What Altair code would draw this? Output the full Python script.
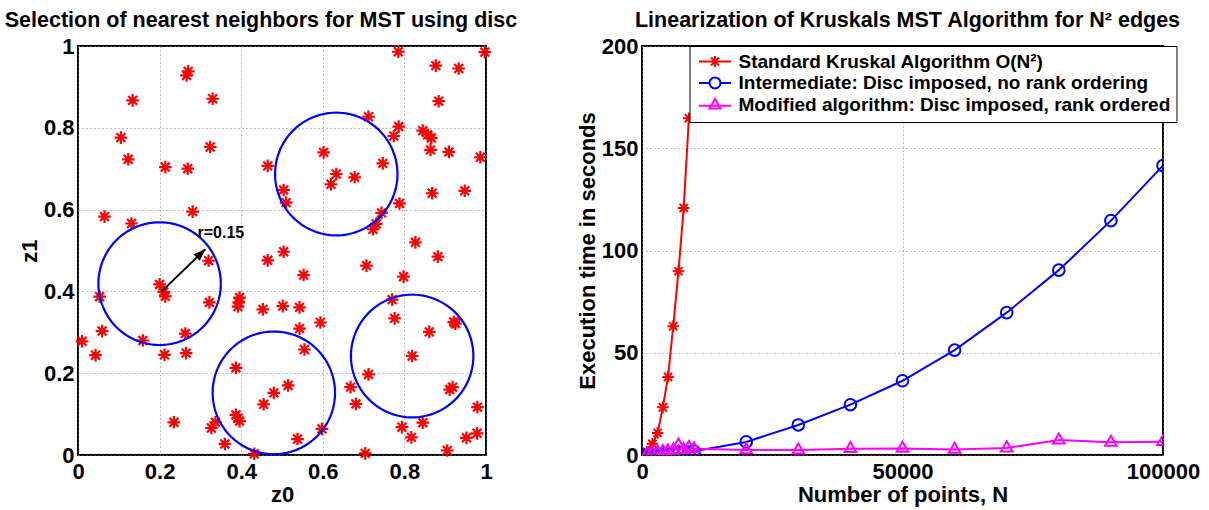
import altair as alt
import numpy as np
import pandas as pd

FONT = "Liberation Sans"

# ---------------- left panel data ----------------
pts_x = [0.270, 0.266, 0.134, 0.330, 0.105, 0.123, 0.324, 0.214, 0.269, 0.465,
         0.281, 0.065, 0.131, 0.504, 0.510, 0.504,
         0.785, 0.997, 0.877, 0.933, 0.884, 0.712, 0.786, 0.774, 0.845, 0.857,
         0.866, 0.864, 0.909, 0.986, 0.602, 0.633, 0.620, 0.678, 0.747, 0.868,
         0.948, 0.788, 0.744, 0.731, 0.723, 0.827,
         0.320, 0.200, 0.210, 0.214, 0.053, 0.322, 0.059, 0.010, 0.043, 0.159,
         0.263, 0.212, 0.265, 0.396, 0.394, 0.392, 0.453, 0.502, 0.465, 0.387,
         0.235, 0.327, 0.337, 0.387, 0.392, 0.396, 0.360, 0.432, 0.455, 0.480,
         0.515,
         0.882, 0.707, 0.798, 0.553, 0.543, 0.594, 0.543, 0.555, 0.770, 0.776,
         0.861, 0.921, 0.925, 0.819, 0.712, 0.668, 0.681, 0.911, 0.918, 0.979,
         0.845, 0.794, 0.817, 0.952, 0.978, 0.905, 0.704, 0.598, 0.538]
pts_y = [0.938, 0.928, 0.867, 0.871, 0.776, 0.723, 0.753, 0.704, 0.700, 0.707,
         0.595, 0.583, 0.566, 0.648, 0.617, 0.497,
         0.986, 0.985, 0.952, 0.945, 0.865, 0.827, 0.803, 0.780, 0.793, 0.783,
         0.775, 0.746, 0.741, 0.728, 0.740, 0.687, 0.662, 0.679, 0.713, 0.640,
         0.646, 0.615, 0.592, 0.565, 0.552, 0.520,
         0.475, 0.417, 0.399, 0.388, 0.387, 0.373, 0.303, 0.278, 0.244, 0.280,
         0.297, 0.245, 0.249, 0.385, 0.373, 0.363, 0.356, 0.364, 0.476, 0.213,
         0.080, 0.066, 0.080, 0.098, 0.090, 0.083, 0.027, 0.003, 0.124, 0.152,
         0.170,
         0.485, 0.463, 0.436, 0.440, 0.361, 0.324, 0.309, 0.258, 0.380, 0.334,
         0.301, 0.325, 0.321, 0.242, 0.197, 0.166, 0.125, 0.160, 0.166, 0.117,
         0.079, 0.068, 0.043, 0.042, 0.053, 0.011, 0.004, 0.064, 0.039]

disc_cx = [0.200, 0.633, 0.480, 0.819]
disc_cy = [0.419, 0.687, 0.152, 0.242]
disc_r = 0.15

arrow_x = [0.205, 0.312]
arrow_y = [0.400, 0.503]
label_x = [0.293]
label_y = [0.542]
label_text = ["r=0.15"]

# ---------------- right panel data ----------------
series_names = ["Standard Kruskal Algorithm O(N²)",
                "Intermediate: Disc imposed, no rank ordering",
                "Modified algorithm: Disc imposed, rank ordered"]
series_colors = ["#ff0000", "#0000ff", "#ff00ff"]

N_std = [1000, 2000, 3000, 4000, 5000, 6000, 7000, 8000, 9000]
t_std = [1.5, 5.5, 10.8, 23.3, 38.2, 63.0, 89.9, 120.8, 164.7]

N_all = [1000, 2000, 3000, 4000, 5000, 6000, 7000, 8000, 9000, 10000,
         20000, 30000, 40000, 50000, 60000, 70000, 80000, 90000, 100000]
t_int = [0.1, 0.2, 0.3, 0.4, 0.5, 0.7, 0.9, 1.1, 1.4, 1.8,
         6.4, 14.7, 24.6, 36.3, 51.3, 69.6, 90.4, 114.6, 141.5]
t_mod = [0.5, 1.0, 1.3, 1.6, 2.0, 2.3, 4.8, 2.6, 3.6, 3.0,
         2.5, 2.4, 3.1, 3.2, 2.7, 3.4, 7.3, 6.2, 6.5]

# marker shapes (SVG paths)
STAR = "M-1,0L1,0M0,-1L0,1M-0.7,-0.7L0.7,0.7M-0.7,0.7L0.7,-0.7"
CIRC = "M1,0A1,1,0,1,1,-1,0A1,1,0,1,1,1,0Z"
TRI = "M0,-1.15L1,0.58L-1,0.58Z"
STAR_L = "M-3.2,0L3.2,0M0,-1.1L0,1.1M-0.8,-0.8L0.8,0.8M-0.8,0.8L0.8,-0.8"
CIRC_L = "M-3.2,0L-1.1,0M1.1,0L3.2,0M1.1,0A1.1,1.1,0,1,1,-1.1,0A1.1,1.1,0,1,1,1.1,0"
TRI_L = "M-3.2,0.1L3.2,0.1M0,-1.25L1.1,0.65L-1.1,0.65Z"
HEAD = "M0,0L-4,-1.5L-4,1.5Z"

# ---------------- build tables ----------------
df_pts = pd.DataFrame({"x": pts_x, "y": pts_y})

theta = np.linspace(0, 2 * np.pi, 121)
circ_rows = []
for i, (cx, cy) in enumerate(zip(disc_cx, disc_cy)):
    for k, t in enumerate(theta):
        circ_rows.append({"cid": i, "k": k,
                          "x": cx + disc_r * np.cos(t),
                          "y": cy + disc_r * np.sin(t)})
df_circ = pd.DataFrame(circ_rows)

df_arrow = pd.DataFrame({"x0": [arrow_x[0]], "y0": [arrow_y[0]],
                         "x1": [arrow_x[1]], "y1": [arrow_y[1]]})
df_label = pd.DataFrame({"x": label_x, "y": label_y, "t": label_text})

rows = []
for n, t in zip(N_std, t_std):
    rows.append({"series": series_names[0], "N": n, "t": t})
for n, t in zip(N_all, t_int):
    rows.append({"series": series_names[1], "N": n, "t": t})
for n, t in zip(N_all, t_mod):
    rows.append({"series": series_names[2], "N": n, "t": t})
df_r = pd.DataFrame(rows)

# ---------------- left chart ----------------
xs = alt.Scale(domain=[0, 1], nice=False, zero=False)
ys = alt.Scale(domain=[0, 1], nice=False, zero=False)
ax_x = alt.Axis(values=[0, 0.2, 0.4, 0.6, 0.8, 1], format="~g", title="z0", labelPadding=6)
ax_y = alt.Axis(values=[0, 0.2, 0.4, 0.6, 0.8, 1], format="~g", title="z1")

pts = alt.Chart(df_pts).mark_point(
    shape=STAR, filled=False, color="#ff0000", strokeWidth=2.2, size=160, opacity=1
).encode(x=alt.X("x:Q", scale=xs, axis=ax_x), y=alt.Y("y:Q", scale=ys, axis=ax_y))

circles = alt.Chart(df_circ).mark_line(color="#0000ff", strokeWidth=2.2).encode(
    x=alt.X("x:Q", scale=xs), y=alt.Y("y:Q", scale=ys),
    detail="cid:N", order="k:Q")

arrow = alt.Chart(df_arrow).mark_rule(color="black", strokeWidth=2).encode(
    x=alt.X("x0:Q", scale=xs), y=alt.Y("y0:Q", scale=ys), x2="x1:Q", y2="y1:Q")
head = alt.Chart(df_arrow).mark_point(
    shape=HEAD, filled=True, color="black", size=36, angle=316, opacity=1
).encode(x=alt.X("x1:Q", scale=xs), y=alt.Y("y1:Q", scale=ys))
label = alt.Chart(df_label).mark_text(
    align="left", baseline="middle", font=FONT, fontSize=16, fontWeight="bold", color="black"
).encode(x=alt.X("x:Q", scale=xs), y=alt.Y("y:Q", scale=ys), text="t:N")

left = alt.layer(pts, circles, arrow, head, label).properties(
    width=408, height=409,
    title=alt.TitleParams("Selection of nearest neighbors for MST using disc", dx=-21))

# ---------------- right chart ----------------
rx = alt.Scale(domain=[0, 100000], nice=False, zero=False)
ry = alt.Scale(domain=[0, 200], nice=False)
ax_rx = alt.Axis(values=[0, 50000, 100000], format="d", title="Number of points, N", labelPadding=6)
ax_ry = alt.Axis(values=[0, 50, 100, 150, 200], format="d", title="Execution time in seconds")

lines = alt.Chart(df_r).mark_line(strokeWidth=2, clip=True).encode(
    x=alt.X("N:Q", scale=rx, axis=ax_rx), y=alt.Y("t:Q", scale=ry, axis=ax_ry),
    color=alt.Color("series:N", scale=alt.Scale(domain=series_names, range=series_colors), legend=None))

marks = alt.Chart(df_r).mark_point(filled=False, strokeWidth=2, size=135, opacity=1, clip=True).encode(
    x=alt.X("N:Q", scale=rx), y=alt.Y("t:Q", scale=ry),
    color=alt.Color("series:N", scale=alt.Scale(domain=series_names, range=series_colors), legend=None),
    shape=alt.Shape("series:N", scale=alt.Scale(domain=series_names, range=[STAR, CIRC, TRI]), legend=None))

leg = alt.Legend(title=None, orient="none", legendX=47.5, legendY=0,
                 labelFont=FONT, labelFontSize=19, labelFontWeight="bold", labelColor="black",
                 labelLimit=0, symbolSize=100, symbolStrokeWidth=2, symbolOffset=10,
                 labelOffset=14, padding=6, rowPadding=1.4, strokeColor="black",
                 fillColor="white", cornerRadius=0)

legend_layer = alt.Chart(df_r).transform_filter("false").transform_calculate(
    leg="datum.series").mark_point(filled=False, strokeWidth=2, opacity=1).encode(
    x=alt.X("N:Q", scale=rx), y=alt.Y("t:Q", scale=ry),
    color=alt.Color("leg:N", scale=alt.Scale(domain=series_names, range=series_colors), legend=leg),
    shape=alt.Shape("leg:N", scale=alt.Scale(domain=series_names, range=[STAR_L, CIRC_L, TRI_L]), legend=leg))

right = alt.layer(lines, marks, legend_layer).resolve_scale(
    color="independent", shape="independent").properties(
    width=521, height=409,
    title=alt.TitleParams("Linearization of Kruskals MST Algorithm for N² edges", dx=5))

chart = alt.hconcat(left, right, spacing=56).properties(
    padding={"left": 3, "top": 8, "right": 5, "bottom": 5}
).configure_view(stroke="black", strokeWidth=2).configure_axis(
    labelFont=FONT, labelFontSize=22, labelFontWeight="bold", labelColor="black",
    titleFont=FONT, titleFontSize=22, titleFontWeight="bold", titleColor="black",
    grid=True, gridColor="#808080", gridDash=[1, 3], gridWidth=1,
    domain=False, ticks=False, labelPadding=4, titlePadding=2,
    labelFlush=False, labelOverlap=False
).configure_title(font=FONT, fontSize=21.5, fontWeight="bold", color="black", offset=0)

chart.save("out.html", embed_options={"renderer": "svg", "actions": False})
